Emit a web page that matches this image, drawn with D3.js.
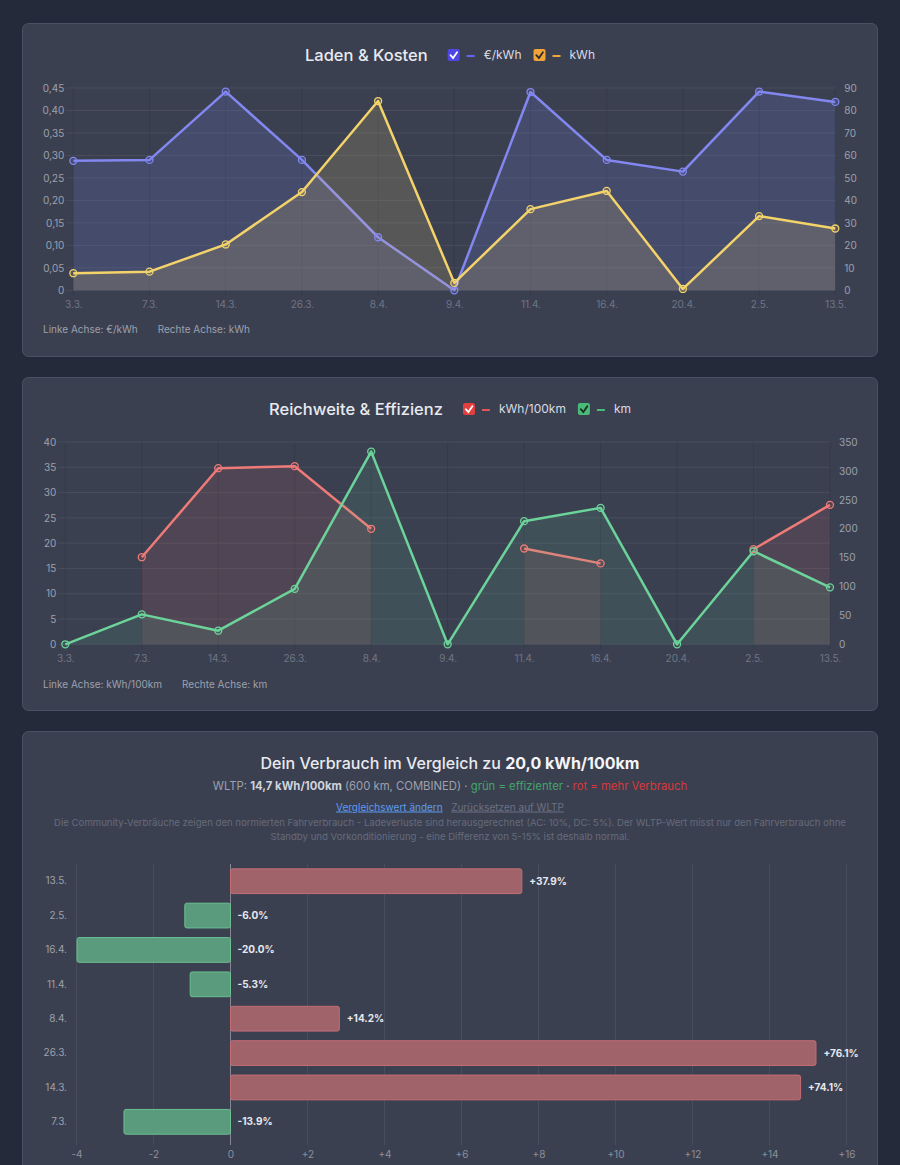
<!DOCTYPE html>
<html>
<head>
<meta charset="utf-8">
<script src="https://cdn.jsdelivr.net/npm/d3@7"></script>
<style>
  body { margin: 0; background: #242a39; font-family: Inter, "Noto Sans", sans-serif; }
  svg { display: block; }
</style>
</head>
<body>
<svg id="page" width="900" height="1165"></svg>
<script>
// charging sessions
let dates = ["3.3.", "7.3.", "14.3.", "26.3.", "8.4.", "9.4.", "11.4.", "16.4.", "20.4.", "2.5.", "13.5."]
let pricePerKwh = [0.288, 0.290, 0.442, 0.290, 0.118, 0, 0.441, 0.290, 0.264, 0.442, 0.419]
let chargedKwh = [7.6, 8.3, 20.4, 43.7, 84.2, 3.3, 36.1, 44.2, 0.6, 33.0, 27.5]
let consumption = [null, 17.22, 34.82, 35.22, 22.84, null, 18.94, 16.0, null, 18.8, 27.58]
let distanceKm = [0, 51.8, 23.5, 96, 333.4, 0, 213, 236, 0, 161, 98.5]

let priceTicks = [0, 0.05, 0.1, 0.15, 0.2, 0.25, 0.3, 0.35, 0.4, 0.45]
let kwhTicks = [0, 10, 20, 30, 40, 50, 60, 70, 80, 90]
let consTicks = [0, 5, 10, 15, 20, 25, 30, 35, 40]
let kmTicks = [0, 50, 100, 150, 200, 250, 300, 350]

// comparison chart
let referenceValue = 20.0
let barDates = ["13.5.", "2.5.", "16.4.", "11.4.", "8.4.", "26.3.", "14.3.", "7.3."]
let barPct = [37.9, -6.0, -20.0, -5.3, 14.2, 76.1, 74.1, -13.9]
let diffTicks = [-4, -2, 0, 2, 4, 6, 8, 10, 12, 14, 16]

const W = 900
const svg = d3.select("#page")

const col = {
  panel: "#3b4051",
  border: "#4b5164",
  title: "#e8eaf0",
  tick: "#9ba1ae",
  xtick: "#6f7584",
  grid: "rgba(255,255,255,0.07)",
  vgrid: "rgba(0,0,0,0.1)"
}

function panel(y, h) {
  svg.append("rect")
    .attr("x", 22.5).attr("y", y + 0.5)
    .attr("width", 855).attr("height", h)
    .attr("rx", 6)
    .attr("fill", col.panel)
    .attr("stroke", col.border)
}

function titleLegend(y, title, items) {
  let g = svg.append("g")
  let t = g.append("text")
    .attr("y", y).attr("dy", "0.35em")
    .attr("font-size", 16.5).attr("font-weight", 500)
    .attr("fill", col.title)
    .text(title)
  let x = t.node().getComputedTextLength() + 20
  items.forEach((it, i) => {
    if (i) x += 12
    g.append("rect").attr("x", x).attr("y", y - 6)
      .attr("width", 12).attr("height", 12).attr("rx", 2)
      .attr("fill", it.box)
    g.append("path")
      .attr("d", `M${x + 2.8},${y + 0.2} l2.6,2.8 l4,-5.8`)
      .attr("stroke", it.check).attr("stroke-width", 1.8)
      .attr("fill", "none").attr("stroke-linecap", "round")
    x += 19
    g.append("line").attr("x1", x).attr("x2", x + 8)
      .attr("y1", y + 1).attr("y2", y + 1)
      .attr("stroke", it.line).attr("stroke-width", 2)
    x += 17
    let l = g.append("text").attr("x", x).attr("y", y).attr("dy", "0.35em")
      .attr("font-size", 12).attr("font-weight", 400)
      .attr("fill", "#d8dbe3")
      .text(it.label)
    x += l.node().getComputedTextLength()
  })
  g.attr("transform", `translate(${(W - x) / 2},0)`)
}

function footer(y, texts) {
  let x = 43
  texts.forEach(s => {
    let t = svg.append("text").attr("x", x).attr("y", y).attr("dy", "0.35em")
      .attr("font-size", 10).attr("fill", col.tick).text(s)
    x += t.node().getComputedTextLength() + 20
  })
}

function dualChart(cfg) {
  let x = d3.scalePoint().domain(dates).range(cfg.xr)
  let yl = d3.scaleLinear().domain(d3.extent(cfg.leftTicks)).range(cfg.yr)
  let yr = d3.scaleLinear().domain(d3.extent(cfg.rightTicks)).range(cfg.yr)
  let g = svg.append("g")

  // grid
  g.append("g").selectAll("line").data(cfg.leftTicks).enter().append("line")
    .attr("x1", cfg.xr[0] - 7).attr("x2", cfg.xr[1])
    .attr("y1", d => yl(d)).attr("y2", d => yl(d))
    .attr("stroke", col.grid)
  g.append("g").selectAll("line").data(dates).enter().append("line")
    .attr("x1", d => x(d)).attr("x2", d => x(d))
    .attr("y1", cfg.yr[1]).attr("y2", cfg.yr[0] + 5)
    .attr("stroke", col.vgrid)

  // axes
  let left = g.append("g").attr("transform", `translate(${cfg.xr[0] - 2},0)`)
    .call(d3.axisLeft(yl).tickValues(cfg.leftTicks).tickFormat(cfg.leftFmt).tickSize(0).tickPadding(7))
  let right = g.append("g").attr("transform", `translate(${cfg.xr[1] + 2},0)`)
    .call(d3.axisRight(yr).tickValues(cfg.rightTicks).tickSize(0).tickPadding(7))
  let bottom = g.append("g").attr("transform", `translate(0,${cfg.yr[0] + 2})`)
    .call(d3.axisBottom(x).tickSize(0).tickPadding(9))
  ;[left, right, bottom].forEach(a => {
    a.select(".domain").remove()
    a.selectAll("text").attr("font-family", "Inter, 'Noto Sans', sans-serif")
      .attr("font-size", 10).attr("fill", col.tick)
  })
  bottom.selectAll("text").attr("fill", col.xtick)

  // series
  cfg.series.forEach(s => {
    let sc = s.axis == "left" ? yl : yr
    let area = d3.area().defined(d => d != null)
      .x((d, i) => x(dates[i])).y0(sc(0)).y1(d => sc(d))
    let line = d3.line().defined(d => d != null)
      .x((d, i) => x(dates[i])).y(d => sc(d))
    g.append("path").attr("d", area(s.values)).attr("fill", s.fill)
    g.append("path").attr("d", line(s.values))
      .attr("fill", "none").attr("stroke", s.color)
      .attr("stroke-width", 2.5).attr("stroke-linejoin", "round")
  })
  cfg.series.forEach(s => {
    let sc = s.axis == "left" ? yl : yr
    g.append("g").selectAll("circle")
      .data(s.values.map((v, i) => ({ v: v, d: dates[i] })).filter(p => p.v != null))
      .enter().append("circle")
      .attr("cx", p => x(p.d)).attr("cy", p => sc(p.v)).attr("r", 3.5)
      .attr("fill", s.fill).attr("stroke", s.color).attr("stroke-width", 1.3)
  })
}

// ---------- panel 1
panel(23, 333)
titleLegend(55, "Laden & Kosten", [
  { box: "#4f46e5", check: "#ffffff", line: "#6366f1", label: "€/kWh" },
  { box: "#f0a43a", check: "#2a2a2a", line: "#f0a43a", label: "kWh" }
])
dualChart({
  xr: [73.3, 835.3], yr: [290.3, 88],
  leftTicks: priceTicks, rightTicks: kwhTicks,
  leftFmt: d => d === 0 ? "0" : d3.format(".2f")(d).replace(".", ","),
  series: [
    { values: pricePerKwh, axis: "left", color: "#8387f0", fill: "rgba(120,128,240,0.17)" },
    { values: chargedKwh, axis: "right", color: "#f3d36a", fill: "rgba(240,210,120,0.16)" }
  ]
})
footer(329, ["Linke Achse: €/kWh", "Rechte Achse: kWh"])

// ---------- panel 2
panel(377, 333)
titleLegend(409, "Reichweite & Effizienz", [
  { box: "#e53e3e", check: "#ffffff", line: "#e05555", label: "kWh/100km" },
  { box: "#48bb78", check: "#1f2a24", line: "#48bb78", label: "km" }
])
dualChart({
  xr: [65.3, 830], yr: [644.3, 442],
  leftTicks: consTicks, rightTicks: kmTicks,
  leftFmt: d => d,
  series: [
    { values: consumption, axis: "left", color: "#ee7b78", fill: "rgba(240,110,110,0.12)" },
    { values: distanceKm, axis: "right", color: "#6cd49a", fill: "rgba(100,200,150,0.12)" }
  ]
})
footer(684, ["Linke Achse: kWh/100km", "Rechte Achse: km"])

// ---------- panel 3
panel(731, 460)

let h = svg.append("text").attr("x", W / 2).attr("y", 763).attr("dy", "0.35em")
  .attr("text-anchor", "middle").attr("font-size", 16).attr("fill", col.title)
h.append("tspan").attr("font-weight", 500).text("Dein Verbrauch im Vergleich zu ")
h.append("tspan").attr("font-weight", 700).attr("fill", "#f4f5f8")
  .text(d3.format(".1f")(referenceValue).replace(".", ",") + " kWh/100km")

let sub = svg.append("text").attr("x", W / 2).attr("y", 786).attr("dy", "0.35em")
  .attr("text-anchor", "middle").attr("font-size", 11.3).attr("fill", "#9ba1ae")
sub.append("tspan").text("WLTP: ")
sub.append("tspan").attr("font-weight", 700).attr("fill", "#cfd3dc").text("14,7 kWh/100km")
sub.append("tspan").text(" (600 km, COMBINED) · ")
sub.append("tspan").attr("fill", "#45a46c").text("grün = effizienter")
sub.append("tspan").text(" · ")
sub.append("tspan").attr("fill", "#d63a3a").text("rot = mehr Verbrauch")

let links = svg.append("text").attr("x", W / 2).attr("y", 807).attr("dy", "0.35em")
  .attr("text-anchor", "middle").attr("font-size", 10)
links.append("tspan").attr("fill", "#5d9bef").attr("text-decoration", "underline").text("Vergleichswert ändern")
links.append("tspan").text("\u00a0\u00a0\u00a0")
links.append("tspan").attr("fill", "#6b7181").attr("text-decoration", "underline").text("Zurücksetzen auf WLTP")

let note = [
  "Die Community-Verbräuche zeigen den normierten Fahrverbrauch - Ladeverluste sind herausgerechnet (AC: 10%, DC: 5%). Der WLTP-Wert misst nur den Fahrverbrauch ohne",
  "Standby und Vorkonditionierung - eine Differenz von 5-15% ist deshalb normal."
]
svg.append("g").selectAll("text").data(note).enter().append("text")
  .attr("x", W / 2).attr("y", (d, i) => 823 + i * 13.5).attr("dy", "0.35em")
  .attr("text-anchor", "middle").attr("font-size", 9.6).attr("fill", "#656b7a")
  .text(d => d)

// bars
let bx = d3.scaleLinear().domain([-4, 16]).range([76.5, 846.5])
let by = d3.scaleBand().domain(barDates).range([864, 1139])
let barVals = barPct.map(p => referenceValue * p / 100)
let bh = by.step() * 0.72

let bg = svg.append("g")
bg.append("g").selectAll("line").data(diffTicks).enter().append("line")
  .attr("x1", d => bx(d)).attr("x2", d => bx(d))
  .attr("y1", 864).attr("y2", 1145)
  .attr("stroke", d => d === 0 ? "rgba(255,255,255,0.38)" : col.grid)

bg.append("g").selectAll("rect").data(barVals).enter().append("rect")
  .attr("x", d => bx(Math.min(0, d)) + (d < 0 ? 0.5 : 0))
  .attr("y", (d, i) => by(barDates[i]) + (by.step() - bh) / 2)
  .attr("width", d => Math.abs(bx(d) - bx(0)) - 0.5)
  .attr("height", bh).attr("rx", 2)
  .attr("fill", d => d > 0 ? "#a1636a" : "#5a9a7d")
  .attr("stroke", d => d > 0 ? "#c46d75" : "#6cbf90")
  .attr("stroke-width", 1)

bg.append("g").selectAll("text").data(barVals).enter().append("text")
  .attr("x", d => (d > 0 ? bx(d) : bx(0)) + 7)
  .attr("y", (d, i) => by(barDates[i]) + by.step() / 2).attr("dy", "0.35em")
  .attr("font-size", 10).attr("font-weight", 700).attr("fill", "#e6e8ee")
  .text((d, i) => (barPct[i] > 0 ? "+" : "") + barPct[i].toFixed(1) + "%")

let ya = bg.append("g").attr("transform", "translate(74,0)")
  .call(d3.axisLeft(by).tickSize(0).tickPadding(7))
let xa = bg.append("g").attr("transform", "translate(0,1148)")
  .call(d3.axisBottom(bx).tickValues(diffTicks).tickSize(0).tickPadding(3)
    .tickFormat(d => d > 0 ? "+" + d : d))
;[ya, xa].forEach(a => {
  a.select(".domain").remove()
  a.selectAll("text").attr("font-family", "Inter, 'Noto Sans', sans-serif")
    .attr("font-size", 10).attr("fill", col.tick)
})
xa.selectAll("text").attr("fill", "#8a909d")
</script>
</body>
</html>
